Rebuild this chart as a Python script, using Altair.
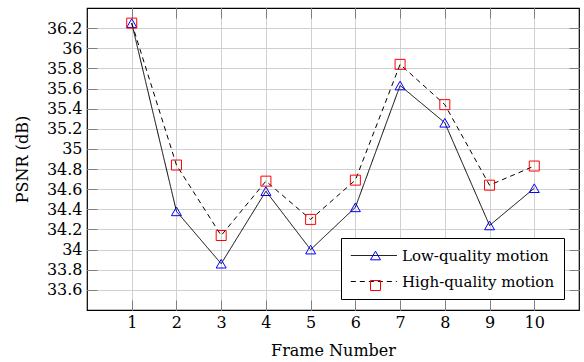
import altair as alt
import pandas as pd

frames = [1, 2, 3, 4, 5, 6, 7, 8, 9, 10]
low = [36.25, 34.38, 33.86, 34.58, 34.00, 34.42, 35.63, 35.26, 34.24, 34.61]
high = [36.25, 34.84, 34.14, 34.68, 34.30, 34.69, 35.84, 35.44, 34.64, 34.83]
series = ["Low-quality motion", "High-quality motion"]
markers = ["low", "high"]
y_ticks = [33.6, 33.8, 34.0, 34.2, 34.4, 34.6, 34.8, 35.0, 35.2, 35.4, 35.6, 35.8, 36.0, 36.2]

rows = []
for f, a, b in zip(frames, low, high):
    rows.append({"frame": f, "psnr": a, "series": series[0], "marker": markers[0]})
    rows.append({"frame": f, "psnr": b, "series": series[1], "marker": markers[1]})
df = pd.DataFrame(rows)

FONT = "DejaVu Serif"
LX, LY = 254, 230
TICK = 10
TICKCOL = "#7f7f7f"
MSIZE = 100

xs = alt.Scale(domain=[0, 11], nice=False)
ys = alt.Scale(domain=[33.4, 36.4], nice=False, zero=False)

lines = alt.Chart(df).mark_line(color="black", strokeWidth=1).encode(
    x=alt.X("frame:Q", scale=xs,
            axis=alt.Axis(values=frames, title="Frame Number", format="d",
                          orient="bottom", offset=-TICK, tickSize=TICK,
                          labelPadding=4, titlePadding=12)),
    y=alt.Y("psnr:Q", scale=ys,
            axis=alt.Axis(values=y_ticks, title="PSNR (dB)", orient="left",
                          labelExpr="format(datum.value, '.1~f')",
                          offset=-TICK, tickSize=TICK, labelPadding=5, titlePadding=16)),
    strokeDash=alt.StrokeDash("series:N", sort=series,
        scale=alt.Scale(domain=series, range=[[1, 0], [5, 4]]),
        legend=alt.Legend(title=None, orient="none", legendX=LX, legendY=LY,
                          symbolType="M-1,0H5", symbolSize=235, symbolStrokeWidth=1,
                          symbolStrokeColor="black", symbolFillColor="transparent",
                          labelFont=FONT, labelFontSize=15, labelColor="black",
                          labelExpr="datum.label + '   '",
                          fillColor="white", strokeColor="black", padding=9,
                          rowPadding=9, labelOffset=35)),
)

points = alt.Chart(df).mark_point(filled=False, strokeWidth=1, size=MSIZE, opacity=1).encode(
    x=alt.X("frame:Q", scale=xs,
            axis=alt.Axis(values=frames, title=None, labels=False, grid=False,
                          orient="top", offset=-TICK, tickSize=TICK)),
    y=alt.Y("psnr:Q", scale=ys,
            axis=alt.Axis(values=y_ticks, title=None, labels=False, grid=False,
                          orient="right", offset=-TICK, tickSize=TICK)),
    shape=alt.Shape("marker:N", sort=markers,
        scale=alt.Scale(domain=markers, range=["triangle-up", "square"]),
        legend=alt.Legend(title=None, orient="none", legendX=LX + 18, legendY=LY + 1,
                          labelExpr="''", symbolSize=MSIZE, symbolStrokeWidth=1,
                          labelFontSize=15, padding=9, rowPadding=14)),
    color=alt.Color("marker:N", sort=markers,
        scale=alt.Scale(domain=markers, range=["blue", "red"]),
        legend=alt.Legend(title=None, orient="none", legendX=LX + 18, legendY=LY + 1,
                          labelExpr="''", symbolSize=MSIZE, symbolStrokeWidth=1,
                          labelFontSize=15, padding=9, rowPadding=14)),
)

chart = alt.layer(lines, points).resolve_axis(x="independent", y="independent").properties(
    width=492, height=302,
    autosize=alt.AutoSizeParams(type="none"),
    padding={"left": 87, "top": 8, "right": 5, "bottom": 52},
).configure_view(stroke="black", strokeWidth=1.2).configure_axis(
    labelFont=FONT, titleFont=FONT, labelFontSize=16, titleFontSize=16,
    labelColor="black", titleColor="black", titleFontWeight="normal",
    gridColor="#d0d0d0", gridWidth=1, domain=False, tickColor=TICKCOL, tickWidth=1,
)

chart.save("out.html", embed_options={"renderer": "svg", "actions": False})
